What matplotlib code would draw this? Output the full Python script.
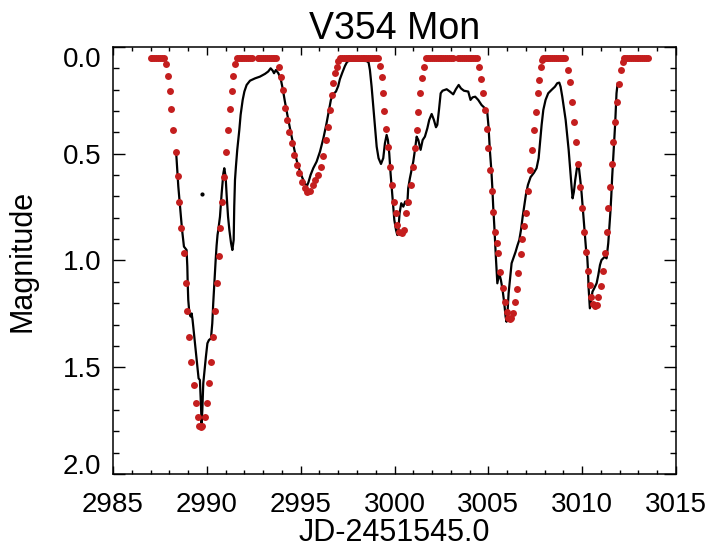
import matplotlib
matplotlib.use("Agg")
import matplotlib.pyplot as plt
from matplotlib.ticker import MultipleLocator

plt.rcParams['font.family'] = ['Liberation Sans', 'DejaVu Sans']

# model light curve (red dots)
red_jd = [2987.0, 2987.1, 2987.2, 2987.3, 2987.4, 2987.5, 2987.6, 2987.7,
          2987.81, 2987.91, 2988.02, 2988.11, 2988.21, 2988.33, 2988.44, 2988.53, 2988.64, 2988.76,
          2988.87, 2988.96, 2989.07, 2989.17, 2989.30, 2989.40, 2989.51, 2989.59, 2989.67, 2989.75,
          2989.92, 2990.03, 2990.10, 2990.24, 2990.34, 2990.43, 2990.52, 2990.63,
          2990.70, 2990.82, 2990.91, 2991.02, 2991.13, 2991.23, 2991.32, 2991.41, 2991.52,
          2991.6, 2991.7, 2991.8, 2991.9, 2992.0, 2992.1, 2992.2, 2992.3, 2992.4,
          2992.7, 2992.8, 2992.9, 2993.0, 2993.1, 2993.2, 2993.3, 2993.4, 2993.5, 2993.6, 2993.7,
          2993.84, 2993.93, 2994.04, 2994.16, 2994.29, 2994.39, 2994.52, 2994.64, 2994.78, 2994.93,
          2995.07, 2995.21, 2995.35, 2995.49, 2995.64, 2995.78, 2995.94, 2996.08, 2996.20, 2996.33,
          2996.44, 2996.54, 2996.65, 2996.74, 2996.83, 2996.92, 2997.00,
          2997.1, 2997.2, 2997.3, 2997.4, 2997.5, 2997.6, 2997.7, 2997.8, 2997.9, 2998.0, 2998.1,
          2998.2, 2998.3, 2998.4, 2998.5, 2998.6, 2998.7, 2998.8, 2998.9, 2999.0, 2999.1,
          2999.22, 2999.31, 2999.40, 2999.46, 2999.54, 2999.65, 2999.76, 2999.86, 2999.97, 3000.06,
          3000.15, 3000.25, 3000.38, 3000.50, 3000.61, 3000.73, 3000.86, 3001.00, 3001.09, 3001.18,
          3001.27, 3001.37, 3001.48, 3001.59,
          3001.7, 3001.8, 3001.9, 3002.0, 3002.1, 3002.2, 3002.3, 3002.4, 3002.5, 3002.6, 3002.7,
          3002.8, 3002.9, 3003.0, 3003.1,
          3003.4, 3003.5, 3003.6, 3003.7, 3003.8, 3003.9, 3004.0, 3004.1, 3004.2, 3004.3, 3004.4,
          3004.52, 3004.59, 3004.69, 3004.82, 3004.91, 3005.00, 3005.08, 3005.17, 3005.26, 3005.35,
          3005.44, 3005.53, 3005.62, 3005.76, 3005.88, 3005.97, 3006.06, 3006.13, 3006.20, 3006.33,
          3006.42, 3006.51, 3006.59, 3006.72, 3006.82, 3006.91, 3007.00, 3007.13, 3007.22, 3007.32,
          3007.43, 3007.54, 3007.62, 3007.71, 3007.78, 3007.85,
          3007.9, 3008.0, 3008.1, 3008.2, 3008.3, 3008.4, 3008.5, 3008.6, 3008.7, 3008.8, 3008.9,
          3009.0, 3009.1,
          3009.26, 3009.35, 3009.47, 3009.56, 3009.67, 3009.79, 3009.88, 3010.00, 3010.11, 3010.22,
          3010.32, 3010.40, 3010.48, 3010.58, 3010.67, 3010.77, 3010.87, 3010.98, 3011.09, 3011.20,
          3011.30, 3011.39, 3011.48, 3011.57, 3011.66, 3011.76, 3011.83, 3011.96, 3012.06, 3012.15,
          3012.24,
          3012.3, 3012.4, 3012.5, 3012.6, 3012.7, 3012.8, 3012.9, 3013.0, 3013.1, 3013.2, 3013.3,
          3013.4, 3013.5]
red_mag = [0.053, 0.053, 0.053, 0.053, 0.053, 0.053, 0.053, 0.053,
           0.080, 0.134, 0.206, 0.290, 0.389, 0.490, 0.603, 0.724, 0.849, 0.966,
           1.104, 1.235, 1.360, 1.476, 1.582, 1.669, 1.735, 1.775, 1.780, 1.775,
           1.735, 1.669, 1.576, 1.474, 1.360, 1.235, 1.107, 0.979,
           0.849, 0.727, 0.607, 0.490, 0.389, 0.292, 0.206, 0.134, 0.080,
           0.053, 0.053, 0.053, 0.053, 0.053, 0.053, 0.053, 0.053, 0.053,
           0.053, 0.053, 0.053, 0.053, 0.053, 0.053, 0.053, 0.053, 0.053, 0.053, 0.053,
           0.092, 0.142, 0.201, 0.287, 0.342, 0.397, 0.451, 0.506, 0.553, 0.592,
           0.631, 0.662, 0.678, 0.673, 0.646, 0.623, 0.600, 0.560, 0.510, 0.436,
           0.373, 0.295, 0.225, 0.170, 0.123, 0.092, 0.064,
           0.053, 0.053, 0.053, 0.053, 0.053, 0.053, 0.053, 0.053, 0.053, 0.053, 0.053,
           0.053, 0.053, 0.053, 0.053, 0.053, 0.053, 0.053, 0.053, 0.053, 0.053,
           0.089, 0.139, 0.217, 0.300, 0.386, 0.470, 0.560, 0.646, 0.724, 0.779,
           0.834, 0.865, 0.873, 0.857, 0.779, 0.724, 0.646, 0.560, 0.474, 0.389,
           0.303, 0.217, 0.144, 0.095,
           0.053, 0.053, 0.053, 0.053, 0.053, 0.053, 0.053, 0.053, 0.053, 0.053, 0.053,
           0.053, 0.053, 0.053, 0.053,
           0.053, 0.053, 0.053, 0.053, 0.053, 0.053, 0.053, 0.053, 0.053, 0.053, 0.053,
           0.092, 0.151, 0.217, 0.295, 0.386, 0.475, 0.576, 0.677, 0.771, 0.865,
           0.920, 0.966, 1.052, 1.131, 1.196, 1.240, 1.271, 1.275, 1.271, 1.245,
           1.196, 1.134, 1.057, 0.970, 0.900, 0.840, 0.779, 0.677, 0.576, 0.482,
           0.389, 0.303, 0.217, 0.155, 0.095, 0.060,
           0.053, 0.053, 0.053, 0.053, 0.053, 0.053, 0.053, 0.053, 0.053, 0.053, 0.053,
           0.053, 0.053,
           0.108, 0.162, 0.256, 0.350, 0.443, 0.548, 0.654, 0.756, 0.865, 0.960,
           1.048, 1.115, 1.170, 1.205, 1.213, 1.210, 1.170, 1.118, 1.048, 0.967,
           0.865, 0.756, 0.654, 0.548, 0.443, 0.350, 0.256, 0.175, 0.108, 0.069,
           0.053,
           0.053, 0.053, 0.053, 0.053, 0.053, 0.053, 0.053, 0.053, 0.053, 0.053, 0.053,
           0.053, 0.053]

# observed light curve (black)
obs_jd = [2988.36, 2988.39, 2988.48, 2988.57, 2988.68, 2988.78, 2988.92, 2988.96, 2988.98, 2989.01,
          2989.07, 2989.14, 2989.19, 2989.24, 2989.33, 2989.42, 2989.51, 2989.56, 2989.63, 2989.66,
          2989.69, 2989.72, 2989.76, 2989.81, 2989.86, 2989.95, 2990.03, 2990.11, 2990.22, 2990.29,
          2990.34, 2990.40, 2990.47, 2990.52, 2990.57, 2990.61, 2990.70, 2990.79, 2990.88, 2990.93,
          2991.00, 2991.06, 2991.13, 2991.20, 2991.29, 2991.36, 2991.43, 2991.46, 2991.50, 2991.55,
          2991.62, 2991.73, 2991.80, 2991.91, 2992.00, 2992.12, 2992.30, 2992.57, 2992.83, 2993.10,
          2993.27, 2993.40, 2993.51, 2993.58, 2993.68, 2993.81, 2993.93, 2994.04, 2994.16, 2994.29,
          2994.43, 2994.61, 2994.78, 2994.96, 2995.10, 2995.23, 2995.32, 2995.41, 2995.53, 2995.67,
          2995.85, 2996.03, 2996.21, 2996.38, 2996.51, 2996.61, 2996.74, 2996.88, 2997.00, 2997.09,
          2997.22, 2997.36, 2997.48, 2997.63, 2998.07, 2998.51, 2998.62, 2998.69, 2998.78, 2998.87,
          2998.96, 2999.05, 2999.15, 2999.28, 2999.40, 2999.49, 2999.58, 2999.65, 2999.72, 2999.79,
          2999.86, 2999.93, 2999.99, 3000.08, 3000.15, 3000.20, 3000.27, 3000.36, 3000.47, 3000.57,
          3000.68, 3000.73, 3000.82, 3000.91, 3001.00, 3001.09, 3001.18, 3001.27, 3001.39, 3001.50,
          3001.62, 3001.75, 3001.85, 3001.98, 3002.10, 3002.21, 3002.28, 3002.37, 3002.46, 3002.56,
          3002.78, 3002.95, 3003.13, 3003.27, 3003.42, 3003.54, 3003.70, 3003.93, 3004.05, 3004.16,
          3004.30, 3004.46, 3004.64, 3004.82, 3004.94, 3005.01, 3005.08, 3005.16, 3005.21, 3005.26,
          3005.32, 3005.37, 3005.40, 3005.44, 3005.48, 3005.58, 3005.67, 3005.76, 3005.85, 3005.92,
          3005.97, 3006.03, 3006.08, 3006.15, 3006.24, 3006.33, 3006.45, 3006.55, 3006.65, 3006.74,
          3006.83, 3006.91, 3007.00, 3007.11, 3007.25, 3007.43, 3007.57, 3007.68, 3007.75, 3007.84,
          3007.93, 3008.05, 3008.19, 3008.37, 3008.55, 3008.67, 3008.78, 3008.85, 3008.94, 3009.03,
          3009.12, 3009.20, 3009.28, 3009.35, 3009.42, 3009.49, 3009.56, 3009.63, 3009.72, 3009.79,
          3009.84, 3009.90, 3009.97, 3010.04, 3010.11, 3010.18, 3010.23, 3010.27, 3010.31, 3010.34,
          3010.38, 3010.41, 3010.48, 3010.55, 3010.64, 3010.77, 3010.86, 3010.95, 3011.03, 3011.12,
          3011.21, 3011.30, 3011.39, 3011.44, 3011.50, 3011.55, 3011.60, 3011.66, 3011.71, 3011.76,
          3011.80, 3011.83, 3011.87, 3011.90]
obs_mag = [0.490, 0.529, 0.654, 0.748, 0.857, 0.935, 0.951, 1.029, 1.107, 1.185,
           1.248, 1.263, 1.248, 1.279, 1.357, 1.435, 1.513, 1.552, 1.560, 1.620,
           1.685, 1.763, 1.700, 1.575, 1.529, 1.451, 1.388, 1.373, 1.365, 1.294,
           1.201, 1.107, 0.998, 0.930, 0.880, 0.857, 0.795, 0.685, 0.592, 0.568,
           0.607, 0.701, 0.795, 0.857, 0.919, 0.951, 0.904, 0.748, 0.623, 0.560,
           0.482, 0.389, 0.318, 0.248, 0.209, 0.178, 0.158, 0.147, 0.139, 0.126,
           0.115, 0.100, 0.111, 0.123, 0.108, 0.123, 0.147, 0.194, 0.256, 0.318,
           0.381, 0.459, 0.529, 0.584, 0.615, 0.639, 0.654, 0.635, 0.599, 0.568,
           0.537, 0.490, 0.428, 0.357, 0.295, 0.248, 0.220, 0.209, 0.183, 0.151,
           0.120, 0.089, 0.069, 0.064, 0.064, 0.066, 0.073, 0.108, 0.186, 0.279,
           0.373, 0.467, 0.521, 0.548, 0.521, 0.451, 0.412, 0.436, 0.498, 0.592,
           0.670, 0.748, 0.810, 0.857, 0.881, 0.865, 0.779, 0.732, 0.748, 0.724,
           0.740, 0.662, 0.615, 0.576, 0.537, 0.482, 0.420, 0.436, 0.482, 0.436,
           0.420, 0.381, 0.342, 0.314, 0.342, 0.376, 0.365, 0.295, 0.217, 0.205,
           0.198, 0.209, 0.222, 0.198, 0.178, 0.194, 0.205, 0.209, 0.248, 0.236,
           0.233, 0.248, 0.272, 0.287, 0.303, 0.373, 0.482, 0.576, 0.654, 0.748,
           0.841, 0.935, 0.982, 1.045, 1.107, 1.060, 1.092, 1.138, 1.201, 1.263,
           1.287, 1.232, 1.154, 1.092, 1.013, 0.990, 0.960, 0.930, 0.904, 0.857,
           0.795, 0.748, 0.693, 0.646, 0.610, 0.589, 0.568, 0.521, 0.451, 0.365,
           0.295, 0.248, 0.217, 0.201, 0.186, 0.170, 0.167, 0.186, 0.233, 0.287,
           0.342, 0.412, 0.482, 0.560, 0.638, 0.709, 0.678, 0.623, 0.568, 0.553,
           0.576, 0.623, 0.685, 0.763, 0.841, 0.919, 0.974, 0.982, 1.045, 1.123,
           1.185, 1.224, 1.185, 1.146, 1.131, 1.107, 1.068, 1.021, 0.998, 0.990,
           0.982, 0.990, 0.919, 0.857, 0.779, 0.701, 0.607, 0.514, 0.436, 0.357,
           0.279, 0.217, 0.186, 0.170]

# lone outlier point
stray_jd = [2989.75]
stray_mag = [0.69]

fig = plt.figure(figsize=(7.13, 5.53), dpi=100)
ax = fig.add_axes([0.1585, 0.1429, 0.7896, 0.7722])

ax.plot(obs_jd, obs_mag, '-', color='black', lw=1.6, solid_joinstyle='round', zorder=2)
ax.plot(stray_jd, stray_mag, 'o', color='black', ms=2, zorder=2)
ax.plot(red_jd, red_mag, 'o', color='#c41e1e', ms=5, mec='none', zorder=3)

ax.set_xlim(2985, 3015)
ax.set_ylim(2.0, 0.0)
ax.xaxis.set_major_locator(MultipleLocator(5))
ax.xaxis.set_minor_locator(MultipleLocator(1))
ax.yaxis.set_major_locator(MultipleLocator(0.5))
ax.yaxis.set_minor_locator(MultipleLocator(0.1))
ax.yaxis.set_major_formatter(matplotlib.ticker.FormatStrFormatter('%.1f'))

ax.tick_params(axis='both', which='both', direction='in', top=True, right=True, width=1.0)
ax.tick_params(axis='x', which='major', length=6, pad=13, labelsize=20)
ax.tick_params(axis='x', which='minor', length=3)
ax.tick_params(axis='y', which='major', length=8.6, pad=8.5, labelsize=20)
ax.tick_params(axis='y', which='minor', length=4.3)
for s in ax.spines.values():
    s.set_linewidth(1.1)

ax.set_title("V354 Mon", fontsize=27, pad=4)
ax.set_xlabel("JD-2451545.0", fontsize=22, labelpad=0)
ax.set_ylabel("Magnitude", fontsize=22, labelpad=18)

fig.canvas.draw()
yt = ax.yaxis.get_major_ticks()
for t in yt:
    v = t.get_loc()
    if abs(v - 0.0) < 1e-6:
        t.label1.set_va('top')
    if abs(v - 2.0) < 1e-6:
        t.label1.set_va('baseline')

fig.savefig("out.png", dpi=100)
